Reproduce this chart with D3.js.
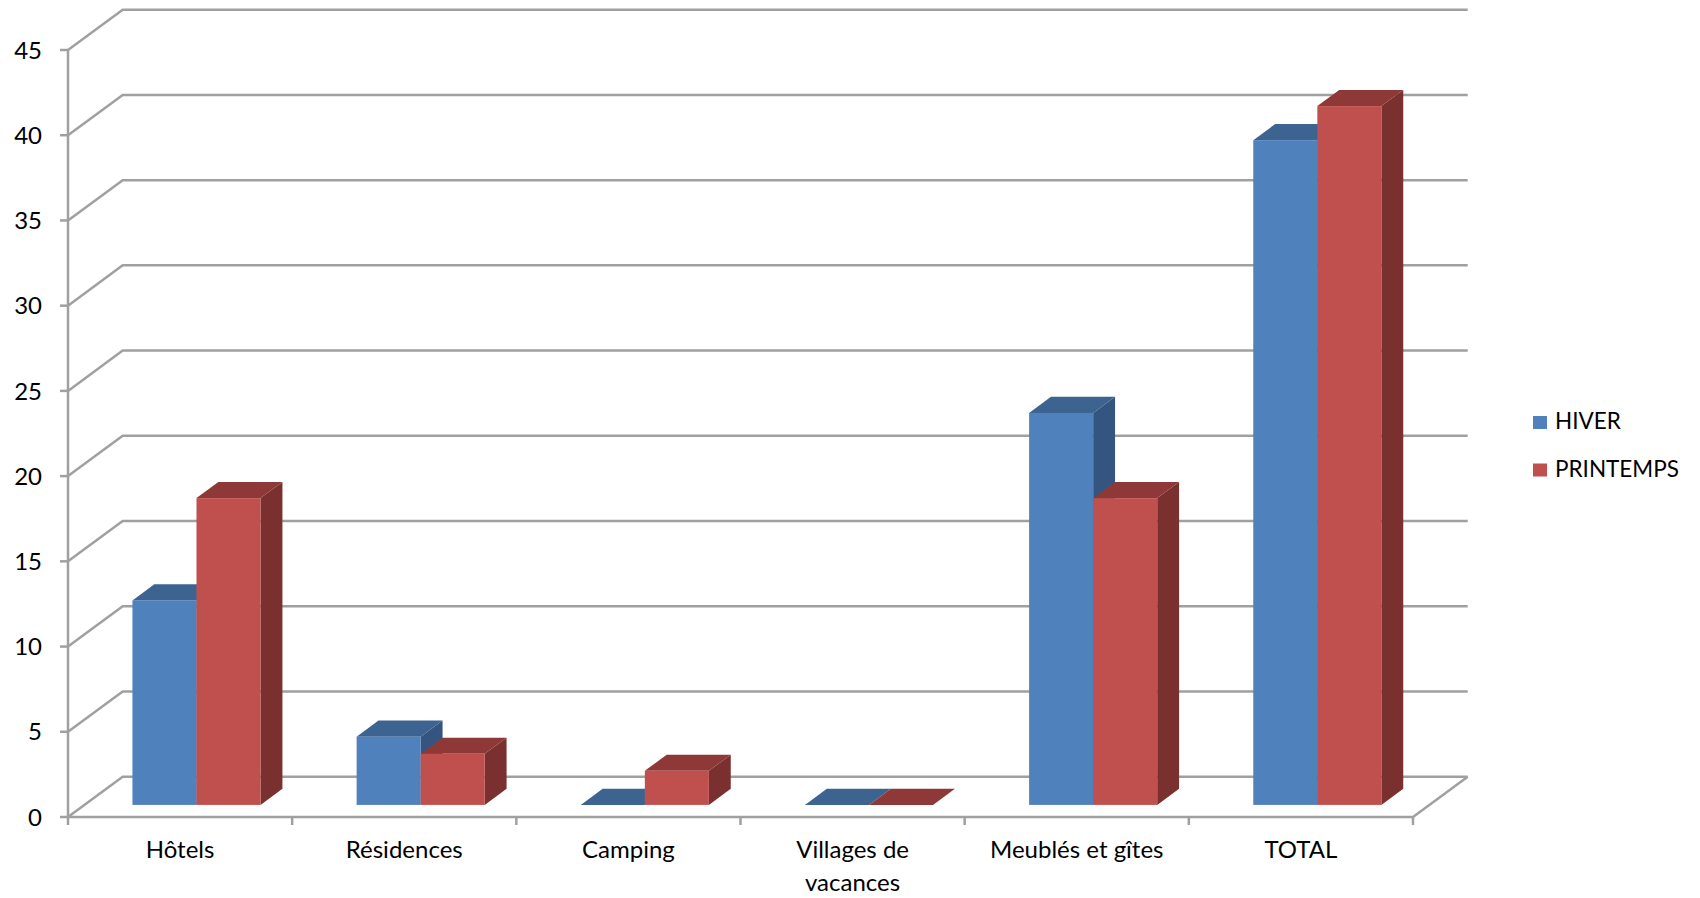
<!DOCTYPE html>
<html>
<head>
<meta charset="utf-8">
<script src="https://cdn.jsdelivr.net/npm/d3@7"></script>
<style>
  html, body { margin: 0; padding: 0; background: #fff; }
  svg { display: block; font-family: Lato, "Open Sans", sans-serif; }
</style>
</head>
<body>
<div id="chart"></div>
<script>
// --- data ---
const categories = ["Hôtels", "Résidences", "Camping", "Villages de|vacances", "Meublés et gîtes", "TOTAL"];
const seriesNames = ["HIVER", "PRINTEMPS"];
const hiver = [12, 4, 0, 0, 23, 39];
const printemps = [18, 3, 2, 0, 18, 41];
const yTicks = [0, 5, 10, 15, 20, 25, 30, 35, 40, 45];

const width = 1700, height = 898;

// front plane of the box and the oblique depth offset
const plotLeft = 68, plotRight = 1413, plotBottom = 817, plotTop = 50;
const DX = 54.7, DY = -40.3;
const barFront = 0.3, barBack = 0.7;   // depth fractions for the columns

const colors = {
  HIVER:     { front: "#4f81bd", top: "#3d6491", side: "#34557f" },
  PRINTEMPS: { front: "#c0504d", top: "#8e3937", side: "#7a302e" }
};
const gridColor = "#a0a0a0";

const svg = d3.select("#chart").append("svg")
  .attr("width", width)
  .attr("height", height);

const x = d3.scaleBand().domain(categories).range([plotLeft, plotRight]).padding(0);
const xs = d3.scaleBand().domain(seriesNames).range([0, x.bandwidth()])
  .paddingInner(0).paddingOuter(0.75);
const y = d3.scaleLinear().domain([0, 45]).range([plotBottom, plotTop]);

const proj = (px, py, f) => [px + f * DX, py + f * DY];

// --- walls / gridlines ---
const grid = svg.append("g")
  .attr("fill", "none")
  .attr("stroke", gridColor)
  .attr("stroke-width", 2.5);

grid.selectAll("path.gl")
  .data(yTicks)
  .join("path")
  .attr("class", "gl")
  .attr("d", d => {
    const a = [plotLeft, y(d)], b = proj(plotLeft, y(d), 1), c = proj(plotRight, y(d), 1);
    return d3.line()([a, b, c]);
  });

// floor front edge and right edge
grid.append("path")
  .attr("d", d3.line()([[plotLeft, plotBottom], [plotRight, plotBottom], proj(plotRight, plotBottom, 1)]));

// vertical axis
grid.append("line")
  .attr("x1", plotLeft).attr("x2", plotLeft)
  .attr("y1", y(45)).attr("y2", plotBottom + 1);

// y ticks
grid.selectAll("line.yt")
  .data(yTicks)
  .join("line")
  .attr("class", "yt")
  .attr("x1", plotLeft - 8).attr("x2", plotLeft)
  .attr("y1", d => y(d)).attr("y2", d => y(d));

// x ticks at category boundaries
const xBounds = categories.map(c => x(c)).concat([plotRight]);
grid.selectAll("line.xt")
  .data(xBounds)
  .join("line")
  .attr("class", "xt")
  .attr("x1", d => d).attr("x2", d => d)
  .attr("y1", plotBottom).attr("y2", plotBottom + 8);

// --- y labels ---
svg.append("g")
  .selectAll("text")
  .data(yTicks)
  .join("text")
  .attr("x", 42)
  .attr("y", d => y(d))
  .attr("dy", "0.36em")
  .attr("text-anchor", "end")
  .attr("font-size", 24)
  .attr("fill", "#000")
  .text(d => d);

// --- x labels (multi line split with '|') ---
svg.append("g")
  .selectAll("text")
  .data(categories)
  .join("text")
  .attr("text-anchor", "middle")
  .attr("font-size", 24)
  .attr("fill", "#000")
  .attr("y", 858)
  .selectAll("tspan")
  .data(c => c.split("|").map(t => ({ c, t })))
  .join("tspan")
  .attr("x", d => x(d.c) + x.bandwidth() / 2)
  .attr("dy", (d, i) => i === 0 ? 0 : 33)
  .text(d => d.t);

// --- bars ---
const bars = [];
categories.forEach((c, i) => {
  bars.push({ cat: c, s: "HIVER", v: hiver[i] });
  bars.push({ cat: c, s: "PRINTEMPS", v: printemps[i] });
});

const line = d3.line();
const barG = svg.append("g")
  .selectAll("g")
  .data(bars)
  .join("g");

barG.each(function(d) {
  const g = d3.select(this);
  const x0 = x(d.cat) + xs(d.s), x1 = x0 + xs.bandwidth();
  const yb = y(0), yt = y(d.v);
  const col = colors[d.s];

  // right side face
  g.append("path")
    .attr("d", line([proj(x1, yb, barFront), proj(x1, yb, barBack), proj(x1, yt, barBack), proj(x1, yt, barFront)]) + "Z")
    .attr("fill", col.side);
  // top face
  g.append("path")
    .attr("d", line([proj(x0, yt, barFront), proj(x1, yt, barFront), proj(x1, yt, barBack), proj(x0, yt, barBack)]) + "Z")
    .attr("fill", col.top);
  // front face
  if (d.v > 0) {
    const p = proj(x0, yt, barFront);
    g.append("rect")
      .attr("x", p[0])
      .attr("y", p[1])
      .attr("width", x1 - x0)
      .attr("height", yb - yt)
      .attr("fill", col.front);
  }
});

// --- legend ---
const legend = svg.append("g")
  .selectAll("g")
  .data(seriesNames)
  .join("g")
  .attr("transform", (d, i) => `translate(1533, ${416 + i * 47.5})`);

legend.append("rect")
  .attr("width", 14)
  .attr("height", 13)
  .attr("fill", d => colors[d].front);

legend.append("text")
  .attr("x", 22)
  .attr("y", 13)
  .attr("font-size", 22.5)
  .attr("fill", "#000")
  .text(d => d);
</script>
</body>
</html>
